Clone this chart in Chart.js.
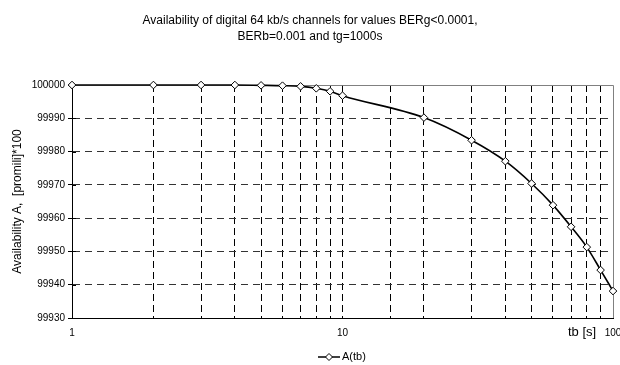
<!DOCTYPE html>
<html>
<head>
<meta charset="utf-8">
<script src="https://cdn.jsdelivr.net/npm/chart.js@4"></script>
<style>
html,body{margin:0;padding:0;background:#fff;}
#wrap{width:620px;height:365px;position:relative;}
</style>
</head>
<body>
<div id="wrap"><canvas id="c" width="620" height="365"></canvas></div>
<script>
const titleLines = ["Availability of digital 64 kb/s channels for values BERg<0.0001,", "BERb=0.001 and tg=1000s"];
const yAxisTitle = "Availability A,  [promili]*100";
const xAxisTitle = "tb [s]";
const seriesName = "A(tb)";
const tbValues = [1,2,3,4,5,6,7,8,9,10,20,30,40,50,60,70,80,90,100];
const availability = [100000,100000,100000,100000,99999.9,99999.8,99999.6,99999.0,99998.1,99996.8,99990.2,99983.4,99977.1,99970.4,99963.9,99957.4,99951.3,99944.4,99938.1];
const xLabelValues = [1,10,100];
const yMin = 99930, yMax = 100000, yStep = 10;

const FONT = "'Liberation Sans', Arial, sans-serif";

const extras = {
  id: 'extras',
  beforeDatasetsDraw(chart) {
    const {ctx, chartArea: a} = chart;
    const ys = chart.scales.y;
    ctx.save();
    ctx.strokeStyle = '#808080';
    ctx.lineWidth = 1;
    ctx.beginPath();
    ctx.moveTo(a.left, Math.round(a.top) + 0.5);
    ctx.lineTo(Math.round(a.right) + 0.5, Math.round(a.top) + 0.5);
    ctx.lineTo(Math.round(a.right) + 0.5, a.bottom);
    ctx.stroke();
    // inner half of y tick marks (crossing the axis)
    ctx.strokeStyle = '#000';
    ctx.beginPath();
    ys.ticks.forEach(t => {
      const py = Math.round(ys.getPixelForValue(t.value)) + 0.5;
      ctx.moveTo(a.left, py);
      ctx.lineTo(a.left + 4, py);
    });
    ctx.stroke();
    ctx.restore();
  },
  afterDraw(chart) {
    const {ctx, chartArea: a} = chart;
    const xs = chart.scales.x;
    ctx.save();
    ctx.fillStyle = '#000';
    // title
    ctx.font = '12px ' + FONT;
    ctx.textAlign = 'center';
    ctx.textBaseline = 'middle';
    ctx.fillText(titleLines[0], 310, 21);
    ctx.fillText(titleLines[1], 310, 37);
    // x tick labels
    ctx.font = '10px ' + FONT;
    xLabelValues.forEach(v => {
      ctx.fillText(String(v), xs.getPixelForValue(v), 333);
    });
    // x axis title
    ctx.font = '13px ' + FONT;
    ctx.textAlign = 'left';
    ctx.fillText(xAxisTitle, 568, 332);
    // legend
    const ly = 357;
    ctx.strokeStyle = '#000';
    ctx.lineWidth = 1.5;
    ctx.beginPath();
    ctx.moveTo(318, ly);
    ctx.lineTo(340, ly);
    ctx.stroke();
    ctx.fillStyle = '#fff';
    ctx.lineWidth = 1;
    ctx.beginPath();
    ctx.moveTo(329, ly - 3.5);
    ctx.lineTo(332.5, ly);
    ctx.lineTo(329, ly + 3.5);
    ctx.lineTo(325.5, ly);
    ctx.closePath();
    ctx.fill();
    ctx.stroke();
    ctx.fillStyle = '#000';
    ctx.font = '11px ' + FONT;
    ctx.textAlign = 'left';
    ctx.fillText(seriesName, 342, ly);
    ctx.restore();
  }
};

new Chart(document.getElementById('c'), {
  type: 'line',
  data: {
    datasets: [{
      label: seriesName,
      data: tbValues.map((x, i) => ({x: x, y: availability[i]})),
      borderColor: '#000',
      borderWidth: 1.6,
      backgroundColor: '#fff',
      pointStyle: 'rectRot',
      pointRadius: 3.8,
      pointBorderWidth: 1,
      pointBorderColor: '#000',
      pointBackgroundColor: '#fff',
      cubicInterpolationMode: 'monotone',
      fill: false,
      clip: false
    }]
  },
  options: {
    responsive: false,
    animation: false,
    devicePixelRatio: 1,
    layout: {padding: {top: 85, right: 7, left: 0, bottom: 0}},
    plugins: {legend: {display: false}, title: {display: false}, tooltip: {enabled: false}},
    scales: {
      x: {
        type: 'logarithmic',
        min: 1, max: 100,
        afterFit(s) { s.height = 47; },
        ticks: {display: false},
        grid: {
          drawTicks: false,
          color: c => (c.tick && (c.tick.value === 100 || c.tick.value === 1)) ? 'rgba(0,0,0,0)' : '#000',
          lineWidth: 1
        },
        border: {display: true, color: '#000', width: 1, dash: [7, 4]}
      },
      y: {
        min: yMin, max: yMax,
        afterFit(s) { s.width = 72; },
        ticks: {
          stepSize: yStep,
          color: '#000',
          font: {family: FONT, size: 10},
          padding: 3,
          callback: v => String(v)
        },
        grid: {
          drawTicks: true,
          tickLength: 4,
          tickColor: '#000',
          tickBorderDash: [],
          color: c => (c.tick && (c.tick.value === yMax || c.tick.value === yMin)) ? 'rgba(0,0,0,0)' : '#333',
          lineWidth: 1
        },
        border: {display: true, color: '#000', width: 1, dash: [7, 5]},
        title: {
          display: true,
          text: yAxisTitle,
          color: '#000',
          font: {family: FONT, size: 12},
          padding: {top: 10, bottom: 4}
        }
      }
    }
  },
  plugins: [extras]
});
</script>
</body>
</html>
